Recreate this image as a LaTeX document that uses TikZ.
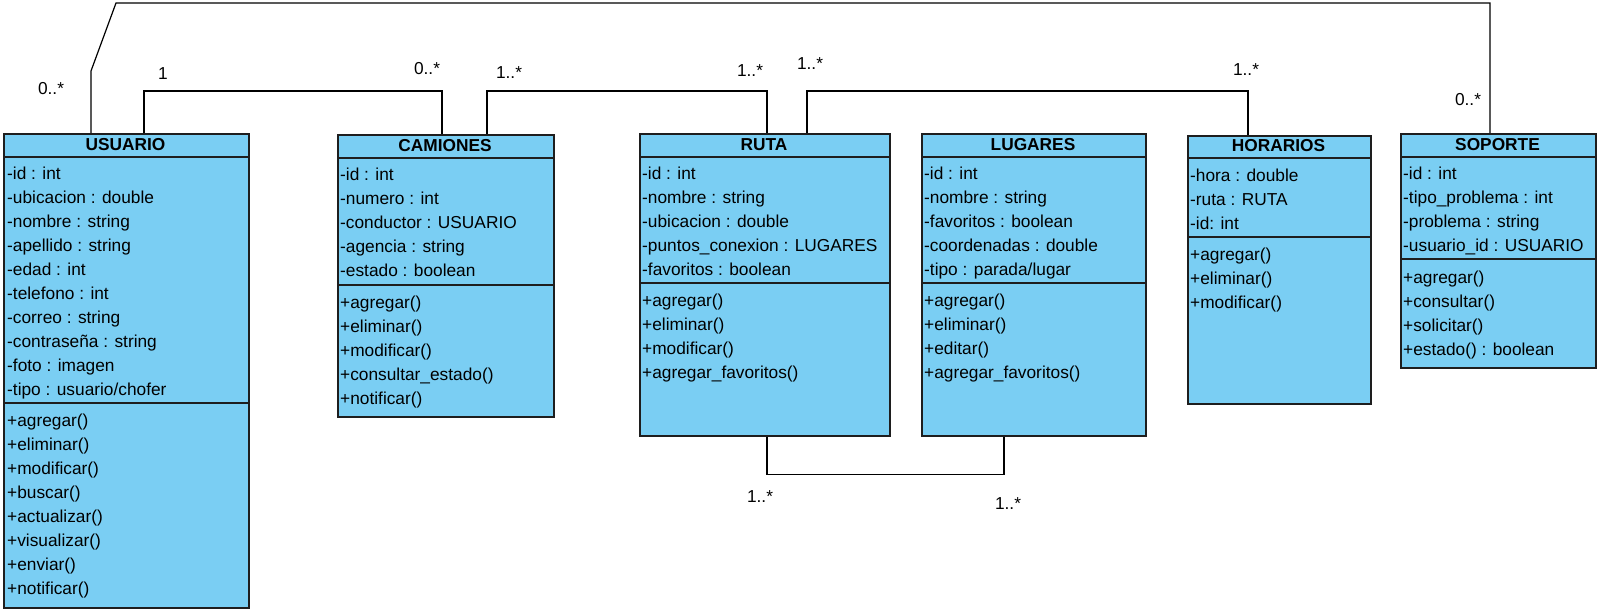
\documentclass[tikz,border=0pt]{standalone}
\usepackage{fontspec}
\setmainfont{Liberation Sans}
\usetikzlibrary{positioning}

\definecolor{umlazul}{RGB}{122,206,243}
\definecolor{borde}{RGB}{30,30,30}
\newcommand{\tamano}{\fontsize{17.3}{20}\selectfont}

\tikzset{
  clase/.style={draw=borde, line width=1.5pt, fill=umlazul, anchor=north west, inner sep=0pt},
  sep/.style={draw=borde, line width=1.5pt},
  titulo/.style={font=\tamano\bfseries, inner sep=0pt},
  campo/.style={anchor=west, inner sep=0pt, text height=12.5pt, text depth=0pt},
  assoc/.style={line width=1.2pt},
  mult/.style={inner sep=0pt}
}

\begin{document}
\begin{tikzpicture}[x=1pt, y=-1pt, font=\tamano]

\useasboundingbox (0,0) rectangle (1600,613);

% USUARIO
\node[clase, minimum width=245pt, minimum height=474pt] (usuario) at (3,133) {};
\draw[sep] (3,157) -- (248,157);
\draw[sep] (3,403) -- (248,403);
\node[titulo] (usuario-t) at (125.5,145) {USUARIO};
\foreach \t [count=\i] in {-id : int, -ubicacion : double, -nombre : string, -apellido : string, -edad : int, -telefono : int, -correo : string, -contraseña : string, -foto : imagen, -tipo : usuario/chofer}
    \node[campo] (usuario-a\i) at (7,{173+24*(\i-1)}) {\t};
\foreach \t [count=\i] in {+agregar(), +eliminar(), +modificar(), +buscar(), +actualizar(), +visualizar(), +enviar(), +notificar()}
    \node[campo] (usuario-m\i) at (7,{420+24*(\i-1)}) {\t};

% CAMIONES
\node[clase, minimum width=216pt, minimum height=282pt] (camiones) at (337,134) {};
\draw[sep] (337,158) -- (553,158);
\draw[sep] (337,285) -- (553,285);
\node[titulo] (camiones-t) at (445,146) {CAMIONES};
\foreach \t [count=\i] in {-id : int, -numero : int, -conductor : USUARIO, -agencia : string, -estado : boolean}
    \node[campo] (camiones-a\i) at (340,{174+24*(\i-1)}) {\t};
\foreach \t [count=\i] in {+agregar(), +eliminar(), +modificar(), +consultar\_estado(), +notificar()}
    \node[campo] (camiones-m\i) at (340,{302+24*(\i-1)}) {\t};

% RUTA
\node[clase, minimum width=250pt, minimum height=302pt] (ruta) at (639,133) {};
\draw[sep] (639,157) -- (889,157);
\draw[sep] (639,283) -- (889,283);
\node[titulo] (ruta-t) at (764,145) {RUTA};
\foreach \t [count=\i] in {-id : int, -nombre : string, -ubicacion : double, -puntos\_conexion : LUGARES, -favoritos : boolean}
    \node[campo] (ruta-a\i) at (642,{173+24*(\i-1)}) {\t};
\foreach \t [count=\i] in {+agregar(), +eliminar(), +modificar(), +agregar\_favoritos()}
    \node[campo] (ruta-m\i) at (642,{300+24*(\i-1)}) {\t};

% LUGARES
\node[clase, minimum width=224pt, minimum height=302pt] (lugares) at (921,133) {};
\draw[sep] (921,157) -- (1145,157);
\draw[sep] (921,283) -- (1145,283);
\node[titulo] (lugares-t) at (1033,145) {LUGARES};
\foreach \t [count=\i] in {-id : int, -nombre : string, -favoritos : boolean, -coordenadas : double, -tipo : parada/lugar}
    \node[campo] (lugares-a\i) at (924,{173+24*(\i-1)}) {\t};
\foreach \t [count=\i] in {+agregar(), +eliminar(), +editar(), +agregar\_favoritos()}
    \node[campo] (lugares-m\i) at (924,{300+24*(\i-1)}) {\t};

% HORARIOS
\node[clase, minimum width=183pt, minimum height=268pt] (horarios) at (1187,135) {};
\draw[sep] (1187,158) -- (1370,158);
\draw[sep] (1187,237) -- (1370,237);
\node[titulo] (horarios-t) at (1278.5,146) {HORARIOS};
\foreach \t [count=\i] in {-hora : double, -ruta : RUTA, -id: int}
    \node[campo] (horarios-a\i) at (1190,{175+24*(\i-1)}) {\t};
\foreach \t [count=\i] in {+agregar(), +eliminar(), +modificar()}
    \node[campo] (horarios-m\i) at (1190,{254+24*(\i-1)}) {\t};

% SOPORTE
\node[clase, minimum width=195pt, minimum height=234pt] (soporte) at (1400,133) {};
\draw[sep] (1400,157) -- (1595,157);
\draw[sep] (1400,259) -- (1595,259);
\node[titulo] (soporte-t) at (1497.5,145) {SOPORTE};
\foreach \t [count=\i] in {-id : int, -tipo\_problema : int, -problema : string, -usuario\_id : USUARIO}
    \node[campo] (soporte-a\i) at (1403,{173+24*(\i-1)}) {\t};
\foreach \t [count=\i] in {+agregar(), +consultar(), +solicitar(), +estado() : boolean}
    \node[campo] (soporte-m\i) at (1403,{277+24*(\i-1)}) {\t};

% asociaciones
\draw[assoc] ([xshift=141pt]usuario.north west) -- ++(0,-42) -| ([xshift=105pt]camiones.north west);
\draw[assoc] ([xshift=88pt]usuario.north west) -- ++(0,-62) -- ++(25,-68) -| ([xshift=90pt]soporte.north west);
\draw[assoc] ([xshift=150pt]camiones.north west) -- ++(0,-43) -| ([xshift=128pt]ruta.north west);
\draw[assoc] ([xshift=168pt]ruta.north west) -- ++(0,-42) -| ([xshift=61pt]horarios.north west);
\draw[assoc] ([xshift=128pt]ruta.south west) -- ++(0,38) -| ([xshift=83pt]lugares.south west);

% multiplicidades
\node[mult] (m1) at (51,89) {0..*};
\node[mult] (m2) at (163,74) {1};
\node[mult] (m3) at (427,69) {0..*};
\node[mult] (m4) at (509,73) {1..*};
\node[mult] (m5) at (750,71) {1..*};
\node[mult] (m6) at (810,64) {1..*};
\node[mult] (m7) at (1246,70) {1..*};
\node[mult] (m8) at (1468,100) {0..*};
\node[mult] (m9) at (760,497) {1..*};
\node[mult] (m10) at (1008,504) {1..*};

\end{tikzpicture}
\end{document}
